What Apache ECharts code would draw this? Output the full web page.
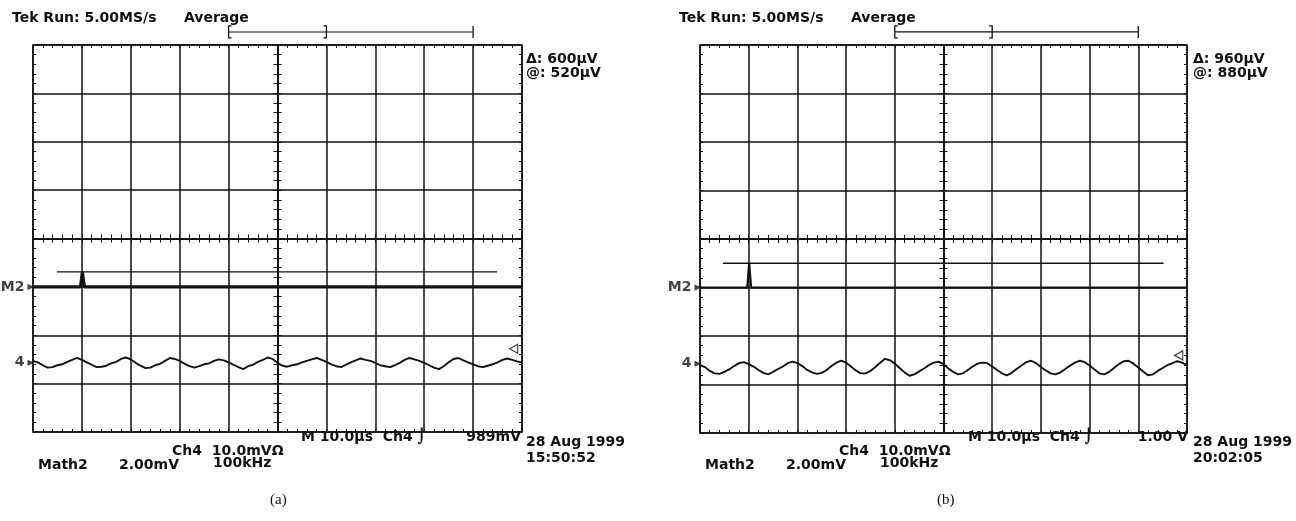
<!DOCTYPE html>
<html><head><meta charset="utf-8">
<script src="https://cdn.jsdelivr.net/npm/echarts@6/dist/echarts.min.js"></script>
<style>html,body{margin:0;padding:0;background:#fff}#c{width:1296px;height:521px}</style>
</head><body><div id="c"></div>
<script>
// ---- data (x in microseconds, 10 us/div; y in screen divisions) ----
const sampleTimesUs = [-50,-49,-48,-47,-46,-45,-44,-43,-42,-41,-40,-39,-38,-37,-36,-35,-34,-33,-32,-31,-30,-29,-28,-27,-26,-25,-24,-23,-22,-21,-20,-19,-18,-17,-16,-15,-14,-13,-12,-11,-10,-9,-8,-7,-6,-5,-4,-3,-2,-1,0,1,2,3,4,5,6,7,8,9,10,11,12,13,14,15,16,17,18,19,20,21,22,23,24,25,26,27,28,29,30,31,32,33,34,35,36,37,38,39,40,41,42,43,44,45,46,47,48,49,50];
const ch4A = [-2.53,-2.56,-2.62,-2.67,-2.66,-2.62,-2.60,-2.55,-2.51,-2.47,
  -2.51,-2.56,-2.61,-2.66,-2.65,-2.63,-2.58,-2.55,-2.49,-2.46,
  -2.50,-2.57,-2.63,-2.68,-2.67,-2.62,-2.59,-2.53,-2.47,-2.49,
  -2.53,-2.59,-2.64,-2.67,-2.64,-2.60,-2.58,-2.53,-2.50,-2.52,
  -2.56,-2.61,-2.66,-2.70,-2.64,-2.61,-2.55,-2.51,-2.46,-2.49,
  -2.57,-2.63,-2.65,-2.62,-2.60,-2.56,-2.53,-2.50,-2.47,-2.51,
  -2.55,-2.60,-2.64,-2.66,-2.61,-2.56,-2.52,-2.48,-2.51,-2.53,
  -2.57,-2.62,-2.64,-2.66,-2.62,-2.57,-2.51,-2.47,-2.50,-2.53,
  -2.57,-2.62,-2.67,-2.70,-2.64,-2.56,-2.49,-2.47,-2.52,-2.56,
  -2.60,-2.64,-2.66,-2.63,-2.60,-2.56,-2.51,-2.48,-2.51,-2.54,-2.56];
const ch4B = [-2.60,-2.64,-2.72,-2.77,-2.78,-2.74,-2.69,-2.62,-2.56,-2.54,
  -2.58,-2.63,-2.70,-2.76,-2.79,-2.74,-2.68,-2.63,-2.56,-2.53,
  -2.56,-2.62,-2.70,-2.75,-2.78,-2.76,-2.70,-2.62,-2.55,-2.51,
  -2.55,-2.63,-2.71,-2.77,-2.77,-2.72,-2.64,-2.55,-2.47,-2.50,
  -2.57,-2.66,-2.75,-2.82,-2.79,-2.73,-2.67,-2.60,-2.55,-2.53,
  -2.58,-2.67,-2.74,-2.79,-2.77,-2.70,-2.63,-2.57,-2.55,-2.56,
  -2.63,-2.70,-2.77,-2.81,-2.76,-2.68,-2.61,-2.54,-2.51,-2.56,
  -2.64,-2.71,-2.77,-2.79,-2.75,-2.68,-2.61,-2.55,-2.51,-2.54,
  -2.61,-2.69,-2.77,-2.79,-2.74,-2.66,-2.58,-2.52,-2.51,-2.57,
  -2.65,-2.73,-2.81,-2.79,-2.72,-2.66,-2.60,-2.56,-2.52,-2.55,-2.60];
const m2TimesA = [-50,-40.3,-39.9,-39.5,50];
const m2ValuesA = [-1,-1,-0.69,-1,-1];
const m2TimesB = [-50,-40.3,-39.9,-39.5,50];
const m2ValuesB = [-1,-1,-0.5,-1,-1];
const cursorA = [-45.1, 44.9, -0.69];
const cursorB = [-45.3, 45.2, -0.5];
const bracketUs = [-10, 10, 40];
const bracketLevel = 4.27;
const m2Level = -1, ch4Level = -2.57;
const trigA = [48.3, -2.28], trigB = [48.3, -2.4];
const labelsA = {tek:'Tek Run: 5.00MS/s', avg:'Average', d:'\u0394: 600\u00b5V', at:'@: 520\u00b5V',
  time:'M 10.0\u00b5s  Ch4 \u2321', trig:'989mV', date:'28 Aug 1999', clock:'15:50:52',
  ch4:'Ch4  10.0mV\u03a9', bw:'100kHz', math:'Math2', mathScale:'2.00mV', cap:'(a)'};
const labelsB = {tek:'Tek Run: 5.00MS/s', avg:'Average', d:'\u0394: 960\u00b5V', at:'@: 880\u00b5V',
  time:'M 10.0\u00b5s  Ch4 \u2321', trig:'1.00 V', date:'28 Aug 1999', clock:'20:02:05',
  ch4:'Ch4  10.0mV\u03a9', bw:'100kHz', math:'Math2', mathScale:'2.00mV', cap:'(b)'};

// ---- chart ----
const FONT = 'DejaVu Sans';
const grids = [{left:33, top:45, width:489, height:387}, {left:700, top:45, width:487, height:388}];
const black = '#111';
function axesFor(g, base) {
  const ls = {color:black, width:1.5};
  const tk = (len, inside) => ({show:true, inside, length:len, lineStyle:{color:black, width:1}});
  const mt = (len) => ({show:true, splitNumber:5, length:len, lineStyle:{color:black, width:1}});
  const cx = {gridIndex:g, type:'value', min:-50, max:50, interval:10, axisLabel:{show:false}, splitLine:{show:false}};
  const cy = {gridIndex:g, type:'value', min:-4, max:4, interval:1, axisLabel:{show:false}, splitLine:{show:false}};
  const xs = [
    Object.assign({}, cx, {position:'bottom', axisLine:{onZero:false, lineStyle:ls}, axisTick:tk(3,true), minorTick:mt(3), splitLine:{show:true, lineStyle:ls}}),
    Object.assign({}, cx, {position:'top', axisLine:{onZero:false, lineStyle:ls}, axisTick:tk(3,true), minorTick:mt(3)}),
    Object.assign({}, cx, {position:'bottom', axisLine:{onZero:true, onZeroAxisIndex:base, lineStyle:ls}, axisTick:tk(4,true), minorTick:mt(4)}),
    Object.assign({}, cx, {position:'bottom', axisLine:{onZero:true, onZeroAxisIndex:base, lineStyle:ls}, axisTick:tk(4,false), minorTick:mt(4)})
  ];
  const ys = [
    Object.assign({}, cy, {position:'left', axisLine:{onZero:false, lineStyle:ls}, axisTick:tk(3,true), minorTick:mt(3), splitLine:{show:true, lineStyle:ls}}),
    Object.assign({}, cy, {position:'right', axisLine:{onZero:false, lineStyle:ls}, axisTick:tk(3,true), minorTick:mt(3)}),
    Object.assign({}, cy, {position:'left', axisLine:{onZero:true, onZeroAxisIndex:base, lineStyle:ls}, axisTick:tk(4,true), minorTick:mt(4)}),
    Object.assign({}, cy, {position:'left', axisLine:{onZero:true, onZeroAxisIndex:base, lineStyle:ls}, axisTick:tk(4,false), minorTick:mt(4)})
  ];
  return {xs, ys};
}
const a0 = axesFor(0, 0), a1 = axesFor(1, 4);

function pairs(xs, ys){ return xs.map((x,i)=>[x, ys[i]]); }

function bracketSeries(xi){
  return {type:'custom', xAxisIndex:xi, yAxisIndex:xi, silent:true, clip:false,
    data:[[bracketUs[0], bracketUs[1], bracketUs[2], bracketLevel]],
    renderItem(params, api){
      const l = api.coord([api.value(0), api.value(3)]);
      const m = api.coord([api.value(1), api.value(3)]);
      const r = api.coord([api.value(2), api.value(3)]);
      const h = 6, st = {stroke:black, fill:null, lineWidth:1.3};
      return {type:'group', children:[
        {type:'line', shape:{x1:l[0], y1:l[1], x2:r[0], y2:r[1]}, style:{stroke:black, lineWidth:1.1}},
        {type:'polyline', shape:{points:[[l[0]+3,l[1]-h],[l[0],l[1]-h],[l[0],l[1]+h],[l[0]+3,l[1]+h]]}, style:st},
        {type:'polyline', shape:{points:[[m[0]-3,m[1]-h],[m[0],m[1]-h],[m[0],m[1]+h],[m[0]-3,m[1]+h]]}, style:st},
        {type:'line', shape:{x1:r[0], y1:r[1]-h, x2:r[0], y2:r[1]+h}, style:st}
      ]};
    }};
}
function cursorSeries(xi, c){
  return {type:'line', xAxisIndex:xi, yAxisIndex:xi, symbol:'none', silent:true,
    data:[[c[0], c[2]], [c[1], c[2]]], lineStyle:{color:black, width:1.3}};
}
function markerSeries(xi){
  const lab = (s) => ({show:true, position:'left', distance:3, formatter:s, color:black, fontFamily:FONT, fontSize:14, fontWeight:'bold'});
  return [{type:'scatter', xAxisIndex:xi, yAxisIndex:xi, silent:true, clip:false,
    symbol:'triangle', symbolRotate:-90, symbolSize:[6,7], symbolOffset:[-2,0], itemStyle:{color:black},
    data:[[-50, m2Level]], label:lab('M2')},
   {type:'scatter', xAxisIndex:xi, yAxisIndex:xi, silent:true, clip:false,
    symbol:'triangle', symbolRotate:-90, symbolSize:[6,7], symbolOffset:[-2,0], itemStyle:{color:black},
    data:[[-50, ch4Level]], label:lab('4')}];
}
function trigSeries(xi, t){
  return {type:'scatter', xAxisIndex:xi, yAxisIndex:xi, silent:true, clip:false,
    symbol:'triangle', symbolRotate:90, symbolSize:[9,8], itemStyle:{color:'#fff', borderColor:black, borderWidth:1.2},
    data:[t]};
}
function traceSeries(xi, xs, ys, w){
  return {type:'line', xAxisIndex:xi, yAxisIndex:xi, symbol:'none', silent:true, data:pairs(xs, ys),
    lineStyle:{color:black, width:w}};
}

function texts(ox, L){
  const F = 'bold 14px "' + FONT + '"';
  const t = (x, y, s, extra) => Object.assign({type:'text', left:x+ox, top:y, silent:true,
    style:Object.assign({text:s, fill:black, font:F}, extra||{})});
  const tr = (rx, y, s) => ({type:'text', right:1296-rx-ox, top:y, silent:true, style:{text:s, fill:black, font:F}});
  return [
    t(12, 11, L.tek), t(184, 11, L.avg),
    t(526, 52, L.d), t(526, 66, L.at),
    t(301, 430, L.time), tr(521, 430, L.trig),
    t(526, 435, L.date), t(526, 451, L.clock),
    t(172, 444, L.ch4), t(213, 456, L.bw),
    t(38, 458, L.math), t(119, 458, L.mathScale),
    t(270, 493, L.cap, {font:'15px "Liberation Serif"'})
  ];
}

const option = {
  animation:false,
  backgroundColor:'#fff',
  grid:grids.map(g=>Object.assign({containLabel:false, show:false}, g)),
  xAxis:a0.xs.concat(a1.xs),
  yAxis:a0.ys.concat(a1.ys),
  series:[
    traceSeries(0, m2TimesA, m2ValuesA, 3.2),
    cursorSeries(0, cursorA),
    traceSeries(0, sampleTimesUs, ch4A, 1.9),
    bracketSeries(0),
    trigSeries(0, trigA),
    ...markerSeries(0),
    traceSeries(4, m2TimesB, m2ValuesB, 2.2),
    cursorSeries(4, cursorB),
    traceSeries(4, sampleTimesUs, ch4B, 1.9),
    bracketSeries(4),
    trigSeries(4, trigB),
    ...markerSeries(4)
  ],
  graphic:texts(0, labelsA).concat(texts(667, labelsB))
};
const chart = echarts.init(document.getElementById('c'), null, {renderer:'canvas'});
chart.setOption(option);
</script>
</body></html>
